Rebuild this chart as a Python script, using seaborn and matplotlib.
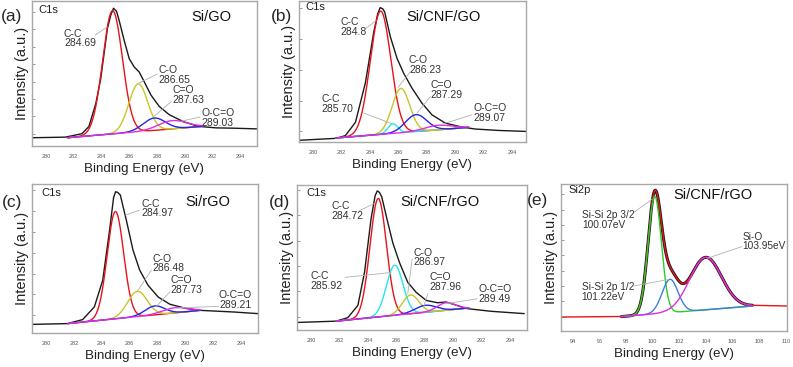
import numpy as np
import matplotlib
matplotlib.use("Agg")
import matplotlib.pyplot as plt
import seaborn as sns

# ---- values (x in eV, y in a.u. on a 0-100 frame) ----
# (a) Si/GO  C1s : fitted peaks + measured envelope
a_centers = [284.80, 286.65, 287.80, 289.10]
a_heights = [85.0, 33.0, 8.5, 5.7]
a_widths = [0.71, 0.68, 0.80, 1.00]
a_bg = [281.55, 5.7, 291.3, 13.6]
a_black_x = [279.0, 281.4, 282.6, 283.1, 283.6, 283.95, 284.43, 284.68, 284.87, 285.08,
             285.28, 285.64, 286.0, 286.36, 286.72, 287.08, 287.56, 288.16, 288.88,
             289.85, 290.93, 292.25, 293.45, 295.2]
a_black_y = [5.7, 6.1, 8.5, 13.5, 29.5, 46.5, 81.0, 90.5, 95.0, 93.0,
             86.4, 72.7, 60.2, 54.5, 51.0, 44.3, 35.2, 27.3, 21.6,
             17.0, 13.6, 12.5, 12.3, 11.8]
a_labels = ["C-C\n284.69", "C-O\n286.65", "C=O\n287.63", "O-C=O\n289.03"]

# (b) Si/CNF/GO  C1s
b_centers = [284.75, 285.62, 286.18, 287.25, 288.80]
b_heights = [87.5, 6.8, 31.5, 12.0, 3.2]
b_widths = [0.72, 0.35, 0.62, 0.75, 0.95]
b_bg = [281.58, 2.8, 290.96, 10.4]
b_black_x = [279.0, 281.6, 282.27, 282.98, 283.68, 284.27, 284.55, 284.72, 284.9, 285.04,
             285.44, 285.91, 286.38, 286.97, 287.67, 288.37, 289.31, 290.48, 291.42,
             293.06, 295.0]
b_black_y = [1.2, 2.6, 4.5, 14.0, 42.0, 78.0, 91.0, 95.3, 94.5, 92.2,
             74.6, 59.3, 48.7, 38.1, 27.5, 19.3, 13.4, 10.6, 9.2,
             8.2, 7.5]
b_labels = ["C-C\n284.8", "C-C\n285.70", "C-O\n286.23", "C=O\n287.29", "O-C=O\n289.07"]

# (c) Si/rGO  C1s
c_centers = [284.98, 286.55, 287.80, 289.25]
c_heights = [72.0, 17.0, 6.0, 3.5]
c_widths = [0.59, 0.70, 0.70, 0.90]
c_bg = [281.55, 6.3, 291.05, 15.2]
c_black_x = [279.0, 281.55, 282.63, 283.47, 284.07, 284.56, 284.85, 284.99, 285.15, 285.33,
             285.76, 286.24, 286.72, 287.32, 288.04, 288.88, 290.09, 291.05, 293.45, 295.2]
c_black_y = [5.8, 6.3, 9.0, 17.5, 35.4, 69.0, 91.0, 94.8, 94.3, 92.6,
             75.8, 55.6, 42.2, 32.0, 24.2, 19.3, 16.4, 15.2, 14.1, 13.0]
c_labels = ["C-C\n284.97", "C-O\n286.48", "C=O\n287.73", "O-C=O\n289.21"]

# (d) Si/CNF/rGO  C1s
d_centers = [284.72, 285.88, 287.00, 288.05, 289.50]
d_heights = [81.7, 34.6, 13.0, 4.8, 5.2]
d_widths = [0.58, 0.58, 0.58, 0.75, 0.62]
d_bg = [281.76, 6.1, 291.1, 15.2]
d_black_x = [279.0, 281.76, 282.58, 283.29, 283.76, 284.22, 284.5, 284.65, 284.8, 284.97,
             285.35, 285.75, 286.22, 286.8, 287.39, 288.1, 288.9, 289.5, 290.09,
             291.02, 292.67, 295.0]
d_black_y = [5.2, 6.1, 8.5, 17.0, 40.0, 77.0, 92.5, 95.9, 95.0, 91.8,
             76.0, 60.0, 46.5, 32.9, 26.0, 20.4, 18.8, 19.3, 17.5,
             14.7, 12.9, 11.3]
d_labels = ["C-C\n284.72", "C-C\n285.92", "C-O\n286.97", "C=O\n287.96", "O-C=O\n289.49"]

# (e) Si/CNF/rGO  Si2p
e_centers = [100.15, 101.30, 103.98]
e_heights = [80.0, 22.7, 35.7]
e_widths = [0.50, 0.60, 1.20]
e_bg = [97.65, 9.8, 107.5, 17.0]
e_tails = [9.5, 17.0]
e_labels = ["Si-Si 2p 3/2\n100.07eV", "Si-Si 2p 1/2\n101.22eV", "Si-O\n103.95eV"]

# ---- style ----
sns.set_style("white")
plt.rcParams["font.family"] = ["Liberation Sans", "DejaVu Sans"]

RED = "#e8121a"
YEL = "#c8c628"
BLU = "#2424e6"
MAG = "#e22ce2"
CYA = "#22e6ee"
GRN = "#2ccc2c"
LBL = "#3a80d8"
SPINE = "#a8a8a8"
LEAD = "#b0b0b0"
TXT = "#333333"

W, H = 793, 367
fig = plt.figure(figsize=(W / 100, H / 100), dpi=100)


def make_axes(l, t, r, b):
    ax = fig.add_axes([l / W, 1 - b / H, (r - l) / W, (b - t) / H])
    ax._px_width = r - l
    return ax


def components(centers, heights, widths, bg):
    x = np.linspace(bg[0], bg[2], 600)
    base = bg[1] + (x - bg[0]) / (bg[2] - bg[0]) * (bg[3] - bg[1])
    comps = [base + h * np.exp(-(x - c) ** 2 / (2 * w ** 2))
             for c, h, w in zip(centers, heights, widths)]
    total = base + sum(cp - base for cp in comps)
    return x, comps, total


def style_axes(ax, xlim, xticks, ytick0, ystep):
    ax.set_xlim(*xlim)
    ax.set_ylim(0, 100)
    ax.set_xticks(xticks)
    ax.set_xticklabels([str(t) for t in xticks])
    ax.set_yticks(np.arange(ytick0, 100, ystep))
    ax.set_yticklabels([])
    for s in ax.spines.values():
        s.set_color(SPINE)
        s.set_linewidth(1.0)
    ax.tick_params(axis="x", direction="out", length=2, width=0.6, color=SPINE,
                   labelsize=4, labelcolor="#555555", pad=3.5)
    ax.tick_params(axis="y", direction="in", length=2.5, width=0.6, color="#888888", left=True)
    ax.set_xlabel("Binding Energy (eV)", fontsize=9.6, color="#222222", labelpad=3)
    ax.set_ylabel("Intensity (a.u.)", fontsize=10.5, color="#222222")
    ax.yaxis.set_label_coords(-2.5 / ax._px_width, 0.5)


def leader(ax, start, end):
    ax.annotate("", xy=end, xytext=start,
                arrowprops=dict(arrowstyle="-", color=LEAD, lw=0.6, shrinkA=0, shrinkB=0))


def c1s_panel(ax, centers, heights, widths, colors, bg, black_x, black_y):
    x, comps, total = components(centers, heights, widths, bg)
    sns.lineplot(x=black_x, y=black_y, ax=ax, color="#1a1a1a", lw=1.0, estimator=None, sort=False)
    for cp, col in zip(comps, colors):
        sns.lineplot(x=x, y=cp, ax=ax, color=col, lw=1.0, estimator=None, sort=False)


def annotate_all(ax, labels, positions, leads, size=7.5):
    for lab, p, (s, e) in zip(labels, positions, leads):
        leader(ax, s, e)
        ax.text(p[0], p[1], lab, fontsize=size, color=TXT, va="center", ha="left", linespacing=0.95)


# ---- (a) ----
ax = make_axes(32, 1, 257, 146)
c1s_panel(ax, a_centers, a_heights, a_widths, [RED, YEL, BLU, MAG], a_bg, a_black_x, a_black_y)
style_axes(ax, (279, 295.2), list(range(280, 295, 2)), 8.4, 12.0)
annotate_all(ax, a_labels,
             [(281.3, 74), (288.1, 49), (289.1, 35), (291.2, 19.5)],
             [((283.55, 76.5), (284.4, 82)), ((288.0, 49.5), (286.72, 43.5)),
              ((289.0, 30.5), (287.8, 20.5)), ((291.1, 20.0), (289.7, 17.0))])
ax.text(0.028, 0.94, "C1s", transform=ax.transAxes, fontsize=8, color="#222222", va="center")
ax.text(0.795, 0.89, "Si/GO", transform=ax.transAxes, fontsize=10.5, color="#111111", va="center", ha="center")
fig.text(12 / W, 1 - 17 / H, "(a)", fontsize=12.5, ha="center", va="center")

# ---- (b) ----
ax = make_axes(299, 1, 526, 142)
c1s_panel(ax, b_centers, b_heights, b_widths, [RED, CYA, YEL, BLU, MAG], b_bg, b_black_x, b_black_y)
style_axes(ax, (279, 295), list(range(280, 295, 2)), 7.5, 21.8)
annotate_all(ax, b_labels,
             [(281.9, 81.6), (280.6, 26.8), (286.75, 54.6), (288.25, 37), (291.3, 20.5)],
             [((283.7, 80.5), (284.43, 86)), ((283.57, 20.5), (285.56, 12.9)),
              ((286.85, 49.9), (285.98, 38.8)), ((288.26, 32.2), (287.32, 20.5)),
              ((291.2, 19.3), (288.96, 12.2))])
ax.text(0.026, 0.955, "C1s", transform=ax.transAxes, fontsize=8, color="#222222", va="center")
ax.text(0.636, 0.889, "Si/CNF/GO", transform=ax.transAxes, fontsize=10.5, color="#111111", va="center", ha="center")
fig.text(282 / W, 1 - 17 / H, "(b)", fontsize=12.5, ha="center", va="center")

# ---- (c) ----
ax = make_axes(32, 184, 258, 333)
c1s_panel(ax, c_centers, c_heights, c_widths, [RED, YEL, BLU, MAG], c_bg, c_black_x, c_black_y)
style_axes(ax, (279, 295.2), list(range(280, 295, 2)), 11.9, 14.0)
annotate_all(ax, c_labels,
             [(286.85, 83.6), (287.65, 46.6), (288.9, 32.1), (292.4, 22)],
             [((286.72, 82.5), (285.71, 79.1)), ((287.56, 42.2), (286.6, 28.7)),
              ((288.88, 27.6), (287.92, 17.9)), ((292.37, 17.9), (289.37, 16.8))])
ax.text(0.043, 0.938, "C1s", transform=ax.transAxes, fontsize=8, color="#222222", va="center")
ax.text(0.78, 0.88, "Si/rGO", transform=ax.transAxes, fontsize=10.5, color="#111111", va="center", ha="center")
fig.text(12 / W, 1 - 202 / H, "(c)", fontsize=12.5, ha="center", va="center")

# ---- (d) ----
ax = make_axes(297, 185, 527, 330)
c1s_panel(ax, d_centers, d_heights, d_widths, [RED, CYA, YEL, BLU, MAG], d_bg, d_black_x, d_black_y)
style_axes(ax, (279, 295.2), list(range(280, 295, 2)), 9.1, 17.5)
annotate_all(ax, d_labels,
             [(281.4, 81.9), (279.95, 33.6), (287.2, 49.9), (288.35, 32.9), (291.75, 24.7)],
             [((283.4, 82.3), (284.46, 87.3)), ((282.39, 36.3), (285.63, 39.7)),
              ((287.11, 48.8), (286.8, 24.9)), ((288.21, 24.9), (287.91, 15.9)),
              ((291.69, 21.5), (289.46, 18.1))])
ax.text(0.039, 0.947, "C1s", transform=ax.transAxes, fontsize=8, color="#222222", va="center")
ax.text(0.62, 0.885, "Si/CNF/rGO", transform=ax.transAxes, fontsize=10.5, color="#111111", va="center", ha="center")
fig.text(280 / W, 1 - 202 / H, "(d)", fontsize=12.5, ha="center", va="center")

# ---- (e) ----
ax = make_axes(561, 184, 787, 331)
x, comps, total = components(e_centers, e_heights, e_widths, e_bg)
sns.lineplot(x=x, y=total, ax=ax, color="#1a1a1a", lw=2.2, estimator=None, sort=False)
rx = np.concatenate([[93.1], x, [110.1]])
ry = np.concatenate([[e_tails[0]], total, [e_tails[1]]])
sns.lineplot(x=rx, y=ry, ax=ax, color=RED, lw=1.0, estimator=None, sort=False)
for cp, col in zip(comps, [GRN, LBL, MAG]):
    sns.lineplot(x=x, y=cp, ax=ax, color=col, lw=1.0, estimator=None, sort=False)
style_axes(ax, (93.1, 110.1), list(range(94, 111, 2)), 9.8, 10.4)
annotate_all(ax, e_labels,
             [(94.7, 75.5), (94.65, 26.5), (106.77, 60.8)],
             [((98.57, 80.6), (99.95, 89.6)), ((98.57, 30.6), (101.2, 35.1)),
              ((106.7, 57.4), (104.08, 49.4))], size=7.3)
ax.text(0.032, 0.96, "Si2p", transform=ax.transAxes, fontsize=8, color="#222222", va="center")
ax.text(0.674, 0.925, "Si/CNF/rGO", transform=ax.transAxes, fontsize=10.5, color="#111111", va="center", ha="center")
fig.text(538 / W, 1 - 200 / H, "(e)", fontsize=12.5, ha="center", va="center")

fig.savefig("out.png", dpi=100)
